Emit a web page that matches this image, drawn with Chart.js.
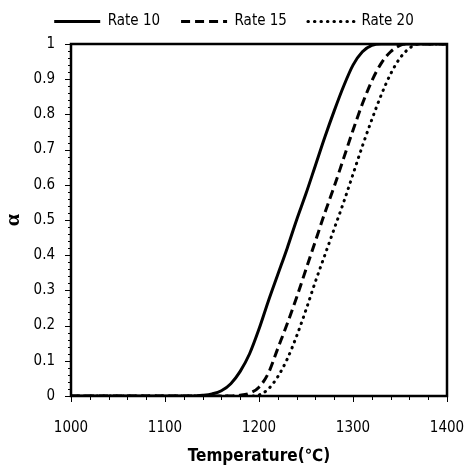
<!DOCTYPE html>
<html>
<head>
<meta charset="utf-8">
<script src="https://cdn.jsdelivr.net/npm/chart.js@4.4.1/dist/chart.umd.min.js"></script>
<style>
  html, body { margin: 0; padding: 0; background: #fff; }
  #wrap { width: 468px; height: 471px; }
</style>
</head>
<body>
<div id="wrap"><canvas id="chart"></canvas></div>
<script>
// temperatures (degC) and conversion for each heating rate
const temp10  = [1000, 1130, 1140, 1150, 1160, 1170, 1180, 1190, 1200, 1210, 1220, 1230, 1240, 1250, 1260, 1270, 1280, 1290, 1300, 1310, 1320, 1330, 1400]
const rate10  = [0, 0, 0.002, 0.006, 0.015, 0.035, 0.07, 0.12, 0.19, 0.27, 0.345, 0.42, 0.5, 0.575, 0.655, 0.735, 0.81, 0.88, 0.94, 0.978, 0.996, 1, 1]

const temp15  = [1000, 1170, 1180, 1190, 1200, 1210, 1220, 1230, 1240, 1250, 1260, 1270, 1280, 1290, 1300, 1310, 1320, 1330, 1340, 1350, 1356, 1400]
const rate15  = [0, 0, 0.002, 0.008, 0.025, 0.065, 0.135, 0.205, 0.28, 0.36, 0.44, 0.52, 0.595, 0.675, 0.755, 0.83, 0.895, 0.945, 0.978, 0.996, 1, 1]

const temp20  = [1000, 1190, 1200, 1210, 1220, 1230, 1240, 1250, 1260, 1270, 1280, 1290, 1300, 1310, 1320, 1330, 1340, 1350, 1360, 1370, 1400]
const rate20  = [0, 0, 0.003, 0.02, 0.055, 0.105, 0.17, 0.245, 0.325, 0.4, 0.475, 0.55, 0.63, 0.71, 0.785, 0.855, 0.915, 0.96, 0.988, 1, 1]

const seriesNames = ['Rate 10', 'Rate 15', 'Rate 20']
const xTicks = [1000, 1100, 1200, 1300, 1400]
const yTicks = [0, 0.1, 0.2, 0.3, 0.4, 0.5, 0.6, 0.7, 0.8, 0.9, 1]

const pts = (xs, ys) => xs.map((x, i) => ({ x: x, y: ys[i] }))

const narrow = '"DejaVu Sans Condensed", "Liberation Sans Narrow", Roboto, sans-serif'

// minor ticks + closed frame round the plot area
const frame = {
  id: 'frame',
  afterDraw(chart) {
    const { ctx, chartArea: a, scales: { x, y } } = chart
    ctx.save()
    ctx.strokeStyle = '#000'
    ctx.lineWidth = 1
    ctx.beginPath()
    for (let i = 0; i <= 20; i++) {
      const px = Math.round(x.getPixelForValue(1000 + i * 20)) + 0.5
      const len = i % 5 === 0 ? 6 : 4
      ctx.moveTo(px, a.bottom)
      ctx.lineTo(px, a.bottom + len)
    }
    for (let i = 0; i <= 50; i++) {
      const py = Math.round(y.getPixelForValue(i * 0.02)) + 0.5
      const len = i % 5 === 0 ? 6 : 3
      ctx.moveTo(a.left, py)
      ctx.lineTo(a.left - len, py)
    }
    ctx.stroke()
    ctx.lineWidth = 2.5
    ctx.strokeRect(a.left, a.top, a.right - a.left, a.bottom - a.top)
    ctx.restore()
  }
}

new Chart(document.getElementById('chart'), {
  type: 'scatter',
  data: {
    datasets: [
      {
        label: seriesNames[0],
        data: pts(temp10, rate10),
        showLine: true,
        borderColor: '#000',
        backgroundColor: '#000',
        borderWidth: 3,
        pointRadius: 0,
        cubicInterpolationMode: 'monotone',
      },
      {
        label: seriesNames[1],
        data: pts(temp15, rate15),
        showLine: true,
        borderColor: '#000',
        backgroundColor: '#000',
        borderWidth: 3,
        borderDash: [9, 5],
        pointRadius: 0,
        cubicInterpolationMode: 'monotone',
      },
      {
        label: seriesNames[2],
        data: pts(temp20, rate20),
        showLine: true,
        borderColor: '#000',
        backgroundColor: '#000',
        borderWidth: 3,
        borderDash: [0.5, 6],
        borderCapStyle: 'round',
        pointRadius: 0,
        cubicInterpolationMode: 'monotone',
      },
    ],
  },
  options: {
    responsive: true,
    maintainAspectRatio: false,
    animation: false,
    layout: { padding: { left: 0, right: 0, top: -7, bottom: 0 } },
    plugins: {
      legend: {
        position: 'top',
        labels: {
          usePointStyle: true,
          pointStyle: 'line',
          pointStyleWidth: 46,
          boxHeight: 10,
          padding: 21,
          color: '#000',
          font: { family: narrow, size: 15 },
          generateLabels(chart) {
            return chart.data.datasets.map((ds, i) => ({
              text: ds.label,
              strokeStyle: '#000',
              fillStyle: '#000',
              lineWidth: 3,
              lineDash: ds.borderDash || [],
              lineCap: ds.borderCapStyle || 'butt',
              pointStyle: 'line',
              datasetIndex: i,
              fontColor: '#000',
            }))
          },
        },
      },
      tooltip: { enabled: false },
    },
    scales: {
      x: {
        type: 'linear',
        min: 1000,
        max: 1400,
        afterBuildTicks(s) { s.ticks = xTicks.map(v => ({ value: v })) },
        afterFit(s) {
          s.height = 75
          s.paddingLeft = 0
          s.paddingRight = 21
        },
        grid: { display: false, drawOnChartArea: false, tickLength: 0 },
        border: { display: false },
        ticks: {
          color: '#000',
          padding: 23,
          font: { family: narrow, size: 15 },
          callback: v => String(v),
        },
        title: {
          display: true,
          text: 'Temperature(℃)',
          color: '#000',
          padding: { top: 4 },
          font: { family: narrow, size: 17, weight: 'bold' },
        },
      },
      // empty top axis, only a small gap under the legend
      gap: {
        type: 'linear',
        position: 'top',
        min: 1000,
        max: 1400,
        afterFit(s) {
          s.height = 5
          s.paddingLeft = 0
          s.paddingRight = 0
        },
        grid: { display: false, drawOnChartArea: false, tickLength: 0 },
        border: { display: false },
        ticks: { display: false },
      },
      y: {
        min: 0,
        max: 1,
        afterBuildTicks(s) { s.ticks = yTicks.map(v => ({ value: v })) },
        afterFit(s) { s.width = 71 },
        grid: { display: false, drawOnChartArea: false, tickLength: 0 },
        border: { display: false },
        ticks: {
          color: '#000',
          padding: 16,
          font: { family: narrow, size: 15 },
          callback: v => String(+v.toFixed(1)),
        },
        title: {
          display: true,
          text: 'α',
          color: '#000',
          padding: { top: 0, bottom: 0 },
          font: { family: '"Liberation Serif", serif', size: 22, weight: 'bold' },
        },
      },
    },
  },
  plugins: [frame],
})
</script>
</body>
</html>
